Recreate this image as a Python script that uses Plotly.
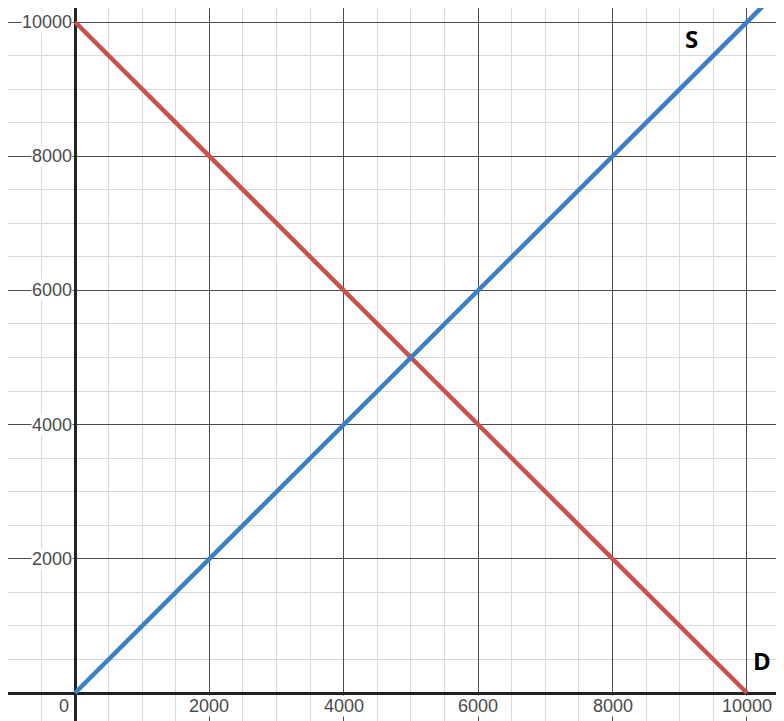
import plotly.graph_objects as go

# supply and demand lines
supply_q = [0, 10600]
supply_p = [0, 10600]
demand_q = [0, 10000]
demand_p = [10000, 0]

x_ticks = [0, 2000, 4000, 6000, 8000, 10000]
y_ticks = [2000, 4000, 6000, 8000, 10000]
curve_labels = ["S", "D"]
curve_label_x = [9170, 10230]
curve_label_y = [9760, 490]

fig = go.Figure()

fig.add_trace(go.Scatter(
    x=demand_q, y=demand_p, mode="lines",
    line=dict(color="#c9514b", width=4.5),
    hoverinfo="skip"
))
fig.add_trace(go.Scatter(
    x=supply_q, y=supply_p, mode="lines",
    line=dict(color="#3b80c6", width=4.5),
    hoverinfo="skip"
))

tick_font = dict(family="Arial, Liberation Sans", size=18, color="#4a4a4a")
annotations = []
for t in x_ticks:
    annotations.append(dict(
        x=t if t != 0 else -75, y=-200, xref="x", yref="y",
        text=str(t), showarrow=False,
        xanchor="center" if t != 0 else "right", yanchor="middle",
        font=tick_font, bgcolor="white", borderpad=0
    ))
for t in y_ticks:
    annotations.append(dict(
        x=-35, y=t, xref="x", yref="y",
        text=str(t), showarrow=False,
        xanchor="right", yanchor="middle",
        font=tick_font, bgcolor="white", borderpad=0
    ))
for lab, lx, ly in zip(curve_labels, curve_label_x, curve_label_y):
    annotations.append(dict(
        x=lx, y=ly, xref="x", yref="y",
        text="<b>" + lab + "</b>", showarrow=False,
        xanchor="center", yanchor="middle",
        font=dict(family="Open Sans", size=24, color="black")
    ))

axis_style = dict(
    showgrid=True, gridcolor="#4d4d4d", gridwidth=1,
    dtick=2000, tick0=0,
    minor=dict(dtick=500, tick0=0, showgrid=True, gridcolor="#d9d9d9", gridwidth=1),
    zeroline=True, zerolinecolor="#222222", zerolinewidth=2.5,
    showticklabels=False, ticks="", showline=False, fixedrange=True
)

# page body adds 8px on the left and top, so the figure itself is 776x713
fig.update_layout(
    width=776, height=713,
    margin=dict(l=0, r=0, t=0, b=0),
    paper_bgcolor="white", plot_bgcolor="white",
    showlegend=False,
    xaxis=dict(range=[-997, 10551], **axis_style),
    yaxis=dict(range=[-417, 10209], **axis_style),
    annotations=annotations
)

fig.write_html("out.html")
